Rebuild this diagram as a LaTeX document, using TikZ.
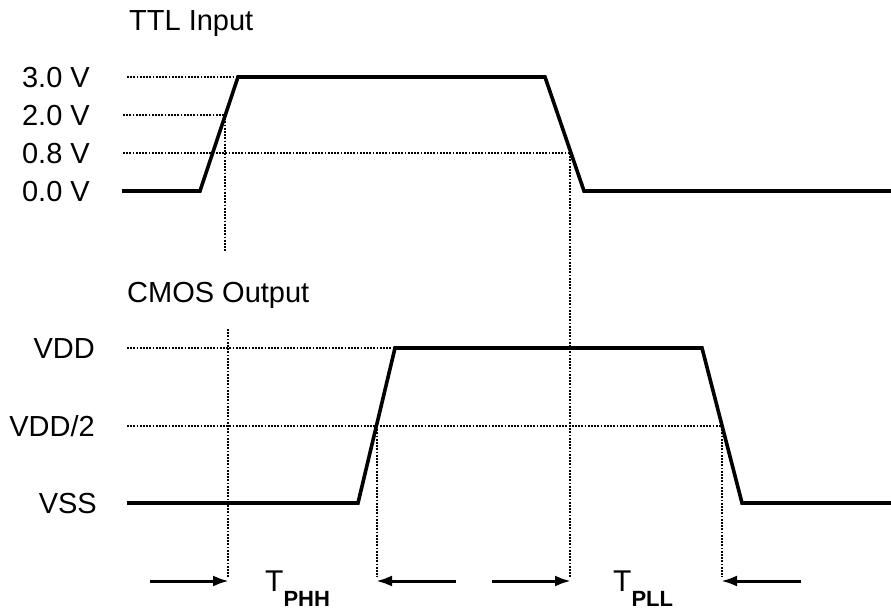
\documentclass[tikz,border=0pt]{standalone}
\usepackage{fontspec}
\setmainfont{Liberation Sans}
\usetikzlibrary{arrows.meta}
\tikzset{
    wave/.style={line width=3.6pt, line join=miter},
    guide/.style={line width=2.1pt, dash pattern=on 1.8pt off 1.4pt},
    lbl/.style={anchor=base east, inner sep=0pt, font=\fontsize{29}{29}\selectfont},
    title/.style={anchor=base west, inner sep=0pt, font=\fontsize{29}{29}\selectfont},
    tlbl/.style={anchor=base west, inner sep=0pt, font=\fontsize{30}{30}\selectfont},
    span/.style={line width=3pt, ->},
}
\newcommand{\tsub}[1]{T\raisebox{-15pt}{\fontsize{22}{22}\selectfont\bfseries #1}}

\begin{document}
\begin{tikzpicture}[x=1pt, y=-1pt, >={Latex[length=16pt,width=11pt]}]
        \useasboundingbox (0,0) rectangle (891,610);
        %label the two signals
        \node[title] (ttl) at (129,31) {TTL Input};
        \node[title] (cmos) at (127,302) {CMOS Output};
        %label the TTL levels
        \node[lbl] (v30) at (90,88) {3.0 V};
        \node[lbl] (v20) at (90,125) {2.0 V};
        \node[lbl] (v08) at (90,163) {0.8 V};
        \node[lbl] (v00) at (90,201) {0.0 V};
        %label the CMOS levels
        \node[lbl] (vdd) at (95,358) {VDD};
        \node[lbl] (vhalf) at (95,436) {VDD/2};
        \node[lbl] (vss) at (97,513) {VSS};
        %draw the dotted level lines
        \draw[guide] (127,77) -- (238,77);
        \draw[guide] (123,115) -- (225,115);
        \draw[guide] (123,153) -- (570,153);
        \draw[guide] (127,348) -- (395,348);
        \draw[guide] (127,426) -- (722,426);
        %draw the dotted timing lines
        \draw[guide] (225,115) -- (225,252);
        \draw[guide] (228,329) -- (228,577);
        \draw[guide] (570,153) -- (570,577);
        \draw[guide] (377,426) -- (377,577);
        \draw[guide] (722,426) -- (722,577);
        %draw TTL input and CMOS output
        \draw[wave] (122,191) -- (200,191) -- (238,77) -- (545,77) -- (584,191) -- (891,191);
        \draw[wave] (127,503) -- (358,503) -- (395,348) -- (702,348) -- (742,503) -- (891,503);
        %draw the delay arrows
        \coordinate (a1) at (150,581);
        \coordinate (b1) at (229,581);
        \coordinate (a2) at (456,581);
        \coordinate (b2) at (376,581);
        \coordinate (a3) at (492,581);
        \coordinate (b3) at (571,581);
        \coordinate (a4) at (801,581);
        \coordinate (b4) at (721,581);
        \draw[span] (a1) -- (b1);
        \draw[span] (a2) -- (b2);
        \draw[span] (a3) -- (b3);
        \draw[span] (a4) -- (b4);
        %label the delays
        \node[tlbl] (tphh) at (265,591) {\tsub{PHH}};
        \node[tlbl] (tpll) at (613,591) {\tsub{PLL}};
\end{tikzpicture}
\end{document}
